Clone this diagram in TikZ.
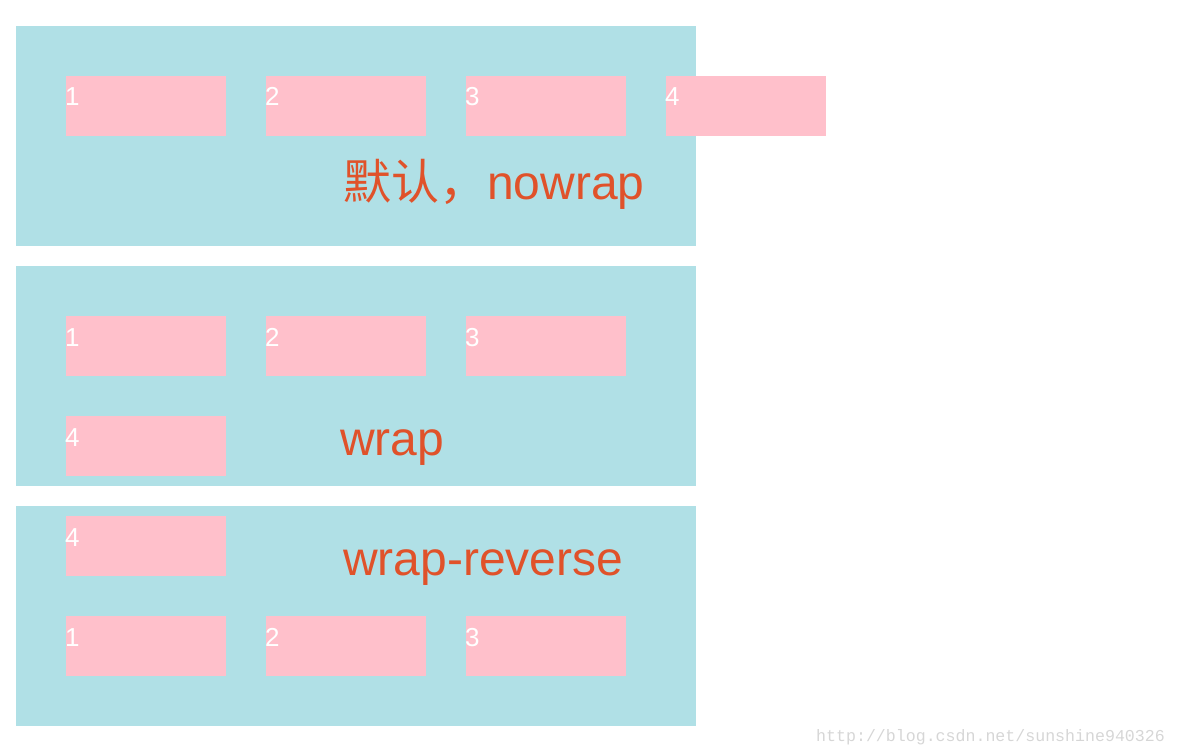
\documentclass[tikz,border=0pt]{standalone}
\usepackage{fontspec}
\setmainfont{Liberation Sans}
\setmonofont{Liberation Mono}
\newfontfamily\cjk{Noto Sans CJK SC}
\usepackage{tikz}
\definecolor{panelblue}{HTML}{B0E0E6}
\definecolor{itempink}{HTML}{FFC0CB}
\definecolor{labelred}{HTML}{E0522A}
\definecolor{markgray}{HTML}{D6D6D6}
\tikzset{
  panel/.style={fill=panelblue, draw=none},
  item/.style={fill=itempink, draw=none, minimum width=160pt, minimum height=60pt, inner sep=0pt},
  num/.style={text=white, inner sep=0pt, anchor=base west, font=\fontsize{26}{26}\selectfont},
  flexlabel/.style={text=labelred, inner sep=0pt, anchor=base west, font=\fontsize{48}{48}\selectfont}
}

\begin{document}
\begin{tikzpicture}[x=1pt,y=-1pt]
\useasboundingbox (0,0) rectangle (1178,754);
% panels
\fill[panel] (16,26) rectangle (696,246);
\fill[panel] (16,266) rectangle (696,486);
\fill[panel] (16,506) rectangle (696,726);
% nowrap
\node[item] (a1) at (146,106) {};
\node[item] (a2) at (346,106) {};
\node[item] (a3) at (546,106) {};
\node[item] (a4) at (746,106) {};
\node[flexlabel] (la) at (343,200) {{\cjk 默认，}nowrap};
% wrap
\node[item] (b1) at (146,346) {};
\node[item] (b2) at (346,346) {};
\node[item] (b3) at (546,346) {};
\node[item] (b4) at (146,446) {};
\node[flexlabel] (lb) at (340,455) {wrap};
% wrap-reverse
\node[item] (c4) at (146,546) {};
\node[item] (c1) at (146,646) {};
\node[item] (c2) at (346,646) {};
\node[item] (c3) at (546,646) {};
\node[flexlabel] (lc) at (343,575) {wrap-reverse};
% numbers
\foreach \b/\n in {a1/1,a2/2,a3/3,a4/4,b1/1,b2/2,b3/3,b4/4,c1/1,c2/2,c3/3,c4/4}
  \node[num] (t\b) at ([xshift=-1pt]\b.west) {\n};
\node[text=markgray, inner sep=0pt, anchor=base west, font=\ttfamily\fontsize{16.6}{16.6}\selectfont] (mark) at (816,741) {http://blog.csdn.net/sunshine940326};
\end{tikzpicture}
\end{document}
